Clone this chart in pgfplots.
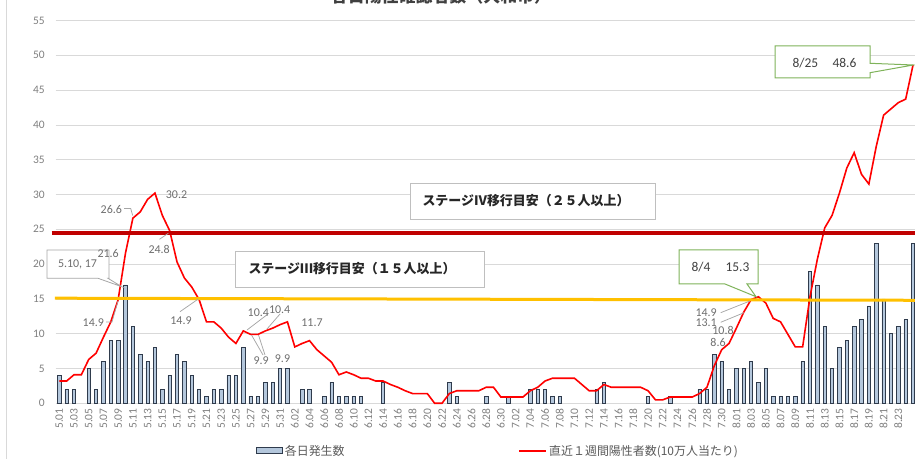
\documentclass[border=0pt]{standalone}
\usepackage{pgfplots}
\pgfplotsset{compat=1.18}
\usepackage{fontspec}
\setmainfont{Carlito}
\newfontfamily\jp{Noto Sans CJK JP}
\definecolor{barfill}{HTML}{B4C7DC}
\definecolor{baredge}{HTML}{2F3B4C}
\definecolor{gridc}{HTML}{D9D9D9}
\definecolor{tickc}{HTML}{7F7F7F}
\definecolor{lblc}{HTML}{6E6E6E}
\definecolor{stagefour}{HTML}{C00000}
\definecolor{stagethree}{HTML}{FFC000}
\definecolor{calloutg}{HTML}{7FB35A}
\definecolor{boxc}{HTML}{BFBFBF}
\definecolor{leadc}{HTML}{A6A6A6}
\begin{document}
\begin{tikzpicture}[x=1bp,y=1bp]
\draw[gridc, line width=0.75bp] (6,0) -- (6,459);
\node[font=\jp\bfseries\fontsize{17}{17}\selectfont, text=black!75, anchor=base] at (441,456.5) {各日陽性確認者数（大和市）};
\begin{axis}[
  at={(55.6bp,55.7bp)}, anchor=south west,
  scale only axis, width=861.1bp, height=382.8bp,
  xmin=-0.5, xmax=116.5, ymin=0, ymax=55,
  clip=false,
  /pgf/number format/assume math mode=true,
  ytick={0,5,...,55},
  ymajorgrids, grid style={gridc, line width=0.75bp},
  axis line style={draw=none},
  tick style={draw=none},
  major tick length=0pt,
  xtick={0,2,...,114},
  xticklabels={5.01,5.03,5.05,5.07,5.09,5.11,5.13,5.15,5.17,5.19,5.21,5.23,5.25,5.27,5.29,5.31,6.02,6.04,6.06,6.08,6.10,6.12,6.14,6.16,6.18,6.20,6.22,6.24,6.26,6.28,6.30,7.02,7.04,7.06,7.08,7.10,7.12,7.14,7.16,7.18,7.20,7.22,7.24,7.26,7.28,7.30,8.01,8.03,8.05,8.07,8.09,8.11,8.13,8.15,8.17,8.19,8.21,8.23},
  xticklabel style={rotate=90, anchor=east, inner xsep=5bp, inner ysep=0pt, font=\fontsize{11.5}{12}\selectfont, text=tickc},
  yticklabel style={anchor=east, inner sep=0pt, xshift=-10.6bp, font=\fontsize{11.5}{12}\selectfont, text=tickc},
  legend columns=2,
  legend cell align=left,
  legend style={draw=none, fill=none, at={(0.2292,-0.124)}, anchor=west,
    font=\jp\fontsize{12}{14}\selectfont, text=black!65,
    /tikz/every even column/.append style={column sep=172bp}},
]
\addplot[ybar, bar width=3.4bp, fill=barfill, draw=baredge, line width=0.7bp,
  legend image code/.code={\draw[fill=barfill, draw=baredge, line width=0.7bp] (0bp,-3bp) rectangle (26bp,3bp);}]
coordinates {
(0,4)(1,2)(2,2)(4,5)(5,2)(6,6)(7,9)(8,9)(9,17)(10,11)(11,7)(12,6)(13,8)(14,2)(15,4)(16,7)(17,6)(18,4)(19,2)(20,1)
(21,2)(22,2)(23,4)(24,4)(25,8)(26,1)(27,1)(28,3)(29,3)(30,5)(31,5)(33,2)(34,2)(36,1)(37,3)(38,1)(39,1)(40,1)(41,1)
(44,3)(53,3)(54,1)(58,1)(61,1)(64,2)(65,2)(66,2)(67,1)(68,1)(73,2)(74,3)(80,1)(83,1)(87,2)(88,2)(89,7)(90,6)(91,2)
(92,5)(93,5)(94,6)(95,3)(96,5)(97,1)(98,1)(99,1)(100,1)(101,6)(102,19)(103,17)(104,11)(105,5)(106,8)(107,9)(108,11)
(109,12)(110,14)(111,23)(112,15)(113,10)(114,11)(115,12)(116,23)
};
\addlegendentry{各日発生数}
\addplot[red, line width=1.6bp, mark=none,
  legend image code/.code={\draw[red, line width=1.6bp] (0bp,0bp) -- (27bp,0bp);}]
coordinates {
(0,3.2)(1,3.2)(2,4.1)(3,4.1)(4,6.3)(5,7.2)(6,9.5)(7,11.7)(8,14.9)(9,21.6)(10,26.6)(11,27.5)(12,29.3)(13,30.2)
(14,27.0)(15,24.8)(16,20.3)(17,18.0)(18,16.7)(19,14.9)(20,11.7)(21,11.7)(22,10.8)(23,9.5)(24,8.6)(25,10.4)
(26,9.9)(27,9.9)(28,10.4)(29,10.8)(30,11.3)(31,11.7)(32,8.1)(33,8.6)(34,9.0)(35,7.7)(36,6.8)(37,5.9)(38,4.1)
(39,4.5)(40,4.1)(41,3.6)(42,3.6)(43,3.2)(44,3.2)(45,2.7)(46,2.3)(47,1.8)(48,1.4)(49,1.4)(50,1.4)(51,0)(52,0)
(53,1.4)(54,1.8)(55,1.8)(56,1.8)(57,1.8)(58,2.3)(59,2.3)(60,0.9)(61,0.9)(62,0.9)(63,0.9)(64,1.8)(65,2.3)(66,3.2)
(67,3.6)(68,3.6)(69,3.6)(70,3.6)(71,2.7)(72,1.8)(73,1.8)(74,2.7)(75,2.3)(76,2.3)(77,2.3)(78,2.3)(79,2.3)(80,1.8)
(81,0.5)(82,0.5)(83,0.9)(84,0.9)(85,0.9)(86,0.9)(87,1.4)(88,2.3)(89,5.4)(90,7.7)(91,8.6)(92,10.8)(93,13.1)
(94,14.9)(95,15.3)(96,14.4)(97,12.2)(98,11.7)(99,9.9)(100,8.1)(101,8.1)(102,15.3)(103,20.7)(104,25.2)(105,27.0)
(106,30.2)(107,33.8)(108,36.0)(109,32.9)(110,31.5)(111,36.9)(112,41.4)(113,42.3)(114,43.2)(115,43.7)(116,48.6)
};
\addlegendentry{直近１週間陽性者数(10万人当たり)}
\addplot[stagefour, line width=3.5bp, forget plot] coordinates {(-1.03,24.5) (116.6,24.5)};
\addplot[stagethree, line width=3bp, forget plot] coordinates {(-0.6,15.1) (116.6,14.8)};
\end{axis}
% stage boxes
\draw[boxc, fill=white, line width=0.8bp] (410,240) rectangle (655,276);
\node[anchor=west, font=\jp\bfseries\fontsize{13}{15}\selectfont, text=black!85] at (419,258) {ステージⅣ移行目安（２５人以上）};
\draw[boxc, fill=white, line width=0.8bp] (235,172) rectangle (484,208);
\node[anchor=west, font=\jp\bfseries\fontsize{13}{15}\selectfont, text=black!85] at (245,190) {ステージⅢ移行目安（１５人以上）};
% callouts
\draw[leadc, fill=white, line width=0.8bp] (47,209)--(109,209)--(109,180.7)--(108,180.7)--(121.7,172.3)--(98,180.7)--(47,180.7)--cycle;
\node[font=\fontsize{12}{13}\selectfont, text=lblc] at (77.5,195) {5.10, 17};
\draw[calloutg, fill=white, line width=1bp] (679,209)--(758,209)--(758,175)--(747,175)--(756,162.3)--(725,175)--(679,175)--cycle;
\node[anchor=west, font=\fontsize{13.5}{14}\selectfont, text=black!75] at (688,192) {8/4};
\node[anchor=west, font=\fontsize{13.5}{14}\selectfont, text=black!75] at (722,192) {15.3};
\draw[calloutg, fill=white, line width=1bp] (775,413)--(870,413)--(870,395.7)--(913.3,394)--(870,386.3)--(870,381)--(775,381)--cycle;
\node[anchor=west, font=\fontsize{13.5}{14}\selectfont, text=black!75] at (789,396) {8/25};
\node[anchor=west, font=\fontsize{13.5}{14}\selectfont, text=black!75] at (829,396) {48.6};
% leaders
\begin{scope}[leadc, line width=0.75bp]
\draw (124,250.5)--(130.7,250.5)--(132.7,243.5);
\draw (159.5,219.7)--(168.3,225.7);
\draw (106,137)--(112,137)--(118,158);
\draw (180,147.3)--(198.3,160);
\draw (268,145)--(247,129);
\draw (280,145)--(267,130);
\draw (263,104)--(251.5,124);
\draw (265,104)--(258.5,124);
\draw (720.7,146.3)--(750,158);
\draw (720.7,136.7)--(744,146.3);
\end{scope}
% data labels
\begin{scope}[every node/.style={font=\fontsize{12}{13}\selectfont, text=lblc, inner sep=0pt}]
\node at (176.5,264) {30.2};
\node at (111.3,249.5) {26.6};
\node at (108.2,205.2) {21.6};
\node at (159.2,209.5) {24.8};
\node at (93.3,136.5) {14.9};
\node at (181,138) {14.9};
\node at (258.3,146) {10.4};
\node at (279.7,149.8) {10.4};
\node at (261.2,98.2) {9.9};
\node at (282.5,100.5) {9.9};
\node at (312,136.5) {11.7};
\node at (706.2,146) {14.9};
\node at (706.2,136) {13.1};
\node at (723,128.5) {10.8};
\node at (718,116.5) {8.6};
\end{scope}
\pgfresetboundingbox
\path[use as bounding box] (0,0) rectangle (915,459);
\end{tikzpicture}
\end{document}
